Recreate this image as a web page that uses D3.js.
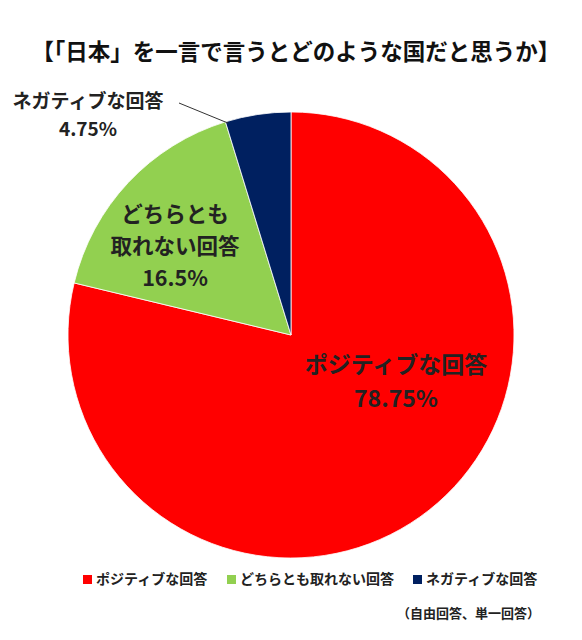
<!DOCTYPE html>
<html>
<head>
<meta charset="utf-8">
<script src="https://cdn.jsdelivr.net/npm/d3@7"></script>
<style>
  body { margin: 0; background: #fff; }
  text { font-family: "Noto Sans CJK JP", sans-serif; }
</style>
</head>
<body>
<div id="chart"></div>
<script>
const categories = ["ポジティブな回答", "どちらとも取れない回答", "ネガティブな回答"];
const values = [78.75, 16.5, 4.75];
const colors = ["#ff0000", "#92d050", "#002060"];

const width = 582, height = 640;
const cx = 291, cy = 335, radius = 223;

const svg = d3.select("#chart").append("svg")
  .attr("width", width)
  .attr("height", height);

svg.append("text")
  .attr("x", 296)
  .attr("y", 60)
  .attr("text-anchor", "middle")
  .attr("font-size", 22.5)
  .attr("font-weight", "bold")
  .attr("fill", "#111")
  .text("【「日本」を一言で言うとどのような国だと思うか】");

const pie = d3.pie().sort(null).value(d => d);
const arcs = pie(values);
const arc = d3.arc().innerRadius(0).outerRadius(radius);

const g = svg.append("g")
  .attr("transform", `translate(${cx},${cy})`);

g.selectAll("path")
  .data(arcs)
  .join("path")
  .attr("d", arc)
  .attr("fill", (d, i) => colors[i])
  .attr("stroke", "#fff")
  .attr("stroke-width", 0.8);

const fmt = v => v + "%";

// positive (inside)
const lp = g.append("text")
  .attr("text-anchor", "middle")
  .attr("font-weight", "bold")
  .attr("font-size", 23)
  .attr("fill", "#222");
lp.append("tspan").attr("x", 105).attr("y", 38).text(categories[0]);
lp.append("tspan").attr("x", 105).attr("y", 72).text(fmt(values[0]));

// neutral (inside)
const lg = g.append("text")
  .attr("text-anchor", "middle")
  .attr("font-weight", "bold")
  .attr("font-size", 21.5)
  .attr("fill", "#222");
lg.append("tspan").attr("x", -116).attr("y", -113).text("どちらとも");
lg.append("tspan").attr("x", -116).attr("y", -81).text("取れない回答");
lg.append("tspan").attr("x", -116).attr("y", -49).text(fmt(values[1]));

// negative (outside with leader line)
const a = arcs[2].startAngle + 0.01;
const edge = [Math.sin(a) * (radius - 2), -Math.cos(a) * (radius - 2)];
g.append("line")
  .attr("x1", -112).attr("y1", -232)
  .attr("x2", edge[0]).attr("y2", edge[1])
  .attr("stroke", "#333")
  .attr("stroke-width", 1);

const ln = svg.append("text")
  .attr("text-anchor", "middle")
  .attr("font-weight", "bold")
  .attr("font-size", 19)
  .attr("fill", "#222");
ln.append("tspan").attr("x", 88).attr("y", 108).text(categories[2]);
ln.append("tspan").attr("x", 88).attr("y", 136).text(fmt(values[2]));

// legend
const legendX = [83, 227, 413];
const legend = svg.append("g")
  .selectAll("g")
  .data(categories)
  .join("g")
  .attr("transform", (d, i) => `translate(${legendX[i]},584)`);

legend.append("rect")
  .attr("x", 0).attr("y", -9)
  .attr("width", 9).attr("height", 9)
  .attr("fill", (d, i) => colors[i]);

legend.append("text")
  .attr("x", 13)
  .attr("y", 0)
  .attr("font-size", 14)
  .attr("font-weight", "bold")
  .attr("fill", "#222")
  .text(d => d);

svg.append("text")
  .attr("x", 540)
  .attr("y", 618)
  .attr("text-anchor", "end")
  .attr("font-size", 13)
  .attr("font-weight", "bold")
  .attr("fill", "#222")
  .text("（自由回答、単一回答）");
</script>
</body>
</html>
